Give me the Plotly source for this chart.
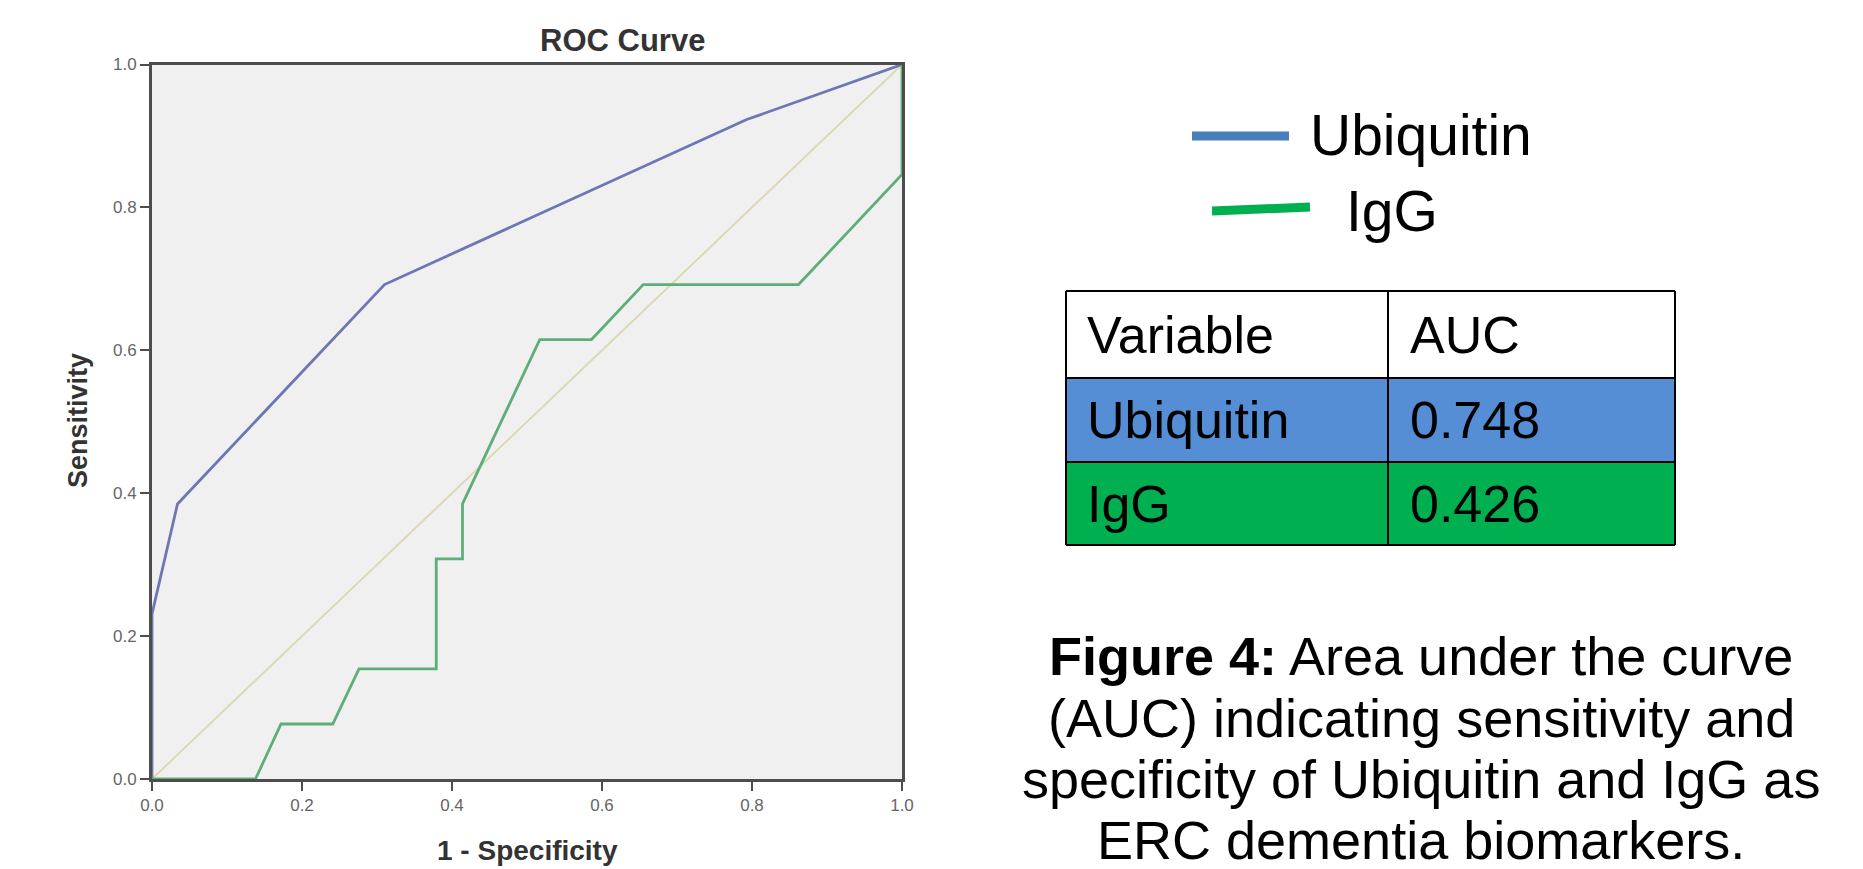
import plotly.graph_objects as go

# ---- data ----
ubq_fpr = [0.0, 0.0, 0.034, 0.310, 0.793, 1.0]
ubq_tpr = [0.0, 0.231, 0.385, 0.692, 0.923, 1.0]

igg_fpr = [0.0, 0.138, 0.172, 0.241, 0.276, 0.379, 0.379, 0.414, 0.414,
           0.517, 0.586, 0.655, 0.862, 1.0, 1.0]
igg_tpr = [0.0, 0.0, 0.077, 0.077, 0.154, 0.154, 0.308, 0.308, 0.385,
           0.615, 0.615, 0.692, 0.692, 0.846, 1.0]

ref_x = [0.0, 1.0]
ref_y = [0.0, 1.0]

tick_vals = [0.0, 0.2, 0.4, 0.6, 0.8, 1.0]
tick_text = ["0.0", "0.2", "0.4", "0.6", "0.8", "1.0"]

table_header = ["Variable", "AUC"]
table_vars = ["Ubiquitin", "IgG"]
table_auc = [0.748, 0.426]

caption_lines = ["<b>Figure 4:</b> Area under the curve",
                 "(AUC) indicating sensitivity and",
                 "specificity of Ubiquitin and IgG as",
                 "ERC dementia biomarkers."]

# ---- geometry: page has an 8px body margin, so the figure is offset ----
OFF = 8
W, H = 1863 - OFF, 869 - OFF
def px(x):
    return (x - OFF) / W
def py(y):
    return 1 - (y - OFF) / H

FONT = "Liberation Sans, Arial, sans-serif"

fig = go.Figure()
fig.add_trace(go.Scatter(x=ref_x, y=ref_y, mode="lines",
                         line=dict(color="#dcd9b4", width=2), showlegend=False))
fig.add_trace(go.Scatter(x=ubq_fpr, y=ubq_tpr, mode="lines",
                         line=dict(color="#6e76b4", width=2.8), showlegend=False))
fig.add_trace(go.Scatter(x=igg_fpr, y=igg_tpr, mode="lines",
                         line=dict(color="#5fae78", width=2.8), showlegend=False))

axis_common = dict(range=[0, 1], tickvals=tick_vals, ticktext=tick_text,
                   showgrid=False, zeroline=False, showline=True, mirror=True,
                   linecolor="#4d4d4d", linewidth=3, ticks="outside", ticklen=9,
                   tickwidth=2, tickcolor="#4d4d4d", automargin=False,
                   tickfont=dict(family=FONT, size=17, color="#666666"))

fig.update_layout(
    width=W, height=H,
    paper_bgcolor="white", plot_bgcolor="#f0f0f0",
    margin=dict(l=0, r=0, t=0, b=0, autoexpand=False),
    xaxis=dict(domain=[px(152), px(902)], **axis_common),
    yaxis=dict(domain=[py(779), py(64.5)], **axis_common),
    showlegend=False,
)

anns = []
# chart title and axis titles
anns.append(dict(text="<b>ROC Curve</b>", x=px(622), y=py(40), xref="paper", yref="paper",
                 xanchor="center", yanchor="middle", showarrow=False,
                 font=dict(family=FONT, size=31, color="#333333")))
anns.append(dict(text="<b>1 - Specificity</b>", x=px(527), y=py(850), xref="paper", yref="paper",
                 xanchor="center", yanchor="middle", showarrow=False,
                 font=dict(family=FONT, size=28, color="#333333")))
anns.append(dict(text="<b>Sensitivity</b>", x=px(78), y=py(421), xref="paper", yref="paper",
                 xanchor="center", yanchor="middle", showarrow=False, textangle=-90,
                 font=dict(family=FONT, size=27, color="#333333")))

shapes = []
# legend
shapes.append(dict(type="line", xref="paper", yref="paper",
                   x0=px(1192), x1=px(1289), y0=py(136), y1=py(136),
                   line=dict(color="#4a7ebb", width=9)))
shapes.append(dict(type="line", xref="paper", yref="paper",
                   x0=px(1212), x1=px(1310), y0=py(211), y1=py(207),
                   line=dict(color="#00b050", width=9)))
anns.append(dict(text="Ubiquitin", x=px(1308), y=py(135), xref="paper", yref="paper",
                 xanchor="left", yanchor="middle", showarrow=False,
                 font=dict(family=FONT, size=57, color="black")))
anns.append(dict(text="IgG", x=px(1344), y=py(211), xref="paper", yref="paper",
                 xanchor="left", yanchor="middle", showarrow=False,
                 font=dict(family=FONT, size=57, color="black")))

# table
tx0, tx1, tmid = 1066, 1675, 1388
row_edges = [291, 378, 462, 545]
row_fills = ["white", "#558ed5", "#00b050"]
for i, fill in enumerate(row_fills):
    shapes.append(dict(type="rect", xref="paper", yref="paper",
                       x0=px(tx0), x1=px(tx1), y0=py(row_edges[i + 1]), y1=py(row_edges[i]),
                       fillcolor=fill, line=dict(width=0), layer="below"))
for ye in row_edges:
    shapes.append(dict(type="line", xref="paper", yref="paper",
                       x0=px(tx0), x1=px(tx1), y0=py(ye), y1=py(ye),
                       line=dict(color="black", width=2)))
for xe in [tx0, tmid, tx1]:
    shapes.append(dict(type="line", xref="paper", yref="paper",
                       x0=px(xe), x1=px(xe), y0=py(row_edges[-1]), y1=py(row_edges[0]),
                       line=dict(color="black", width=2)))

rows = [table_header] + [[v, f"{a:.3f}"] for v, a in zip(table_vars, table_auc)]
for i, row in enumerate(rows):
    yc = (row_edges[i] + row_edges[i + 1]) / 2
    for j, cell in enumerate(row):
        xl = 1085 if j == 0 else 1408
        anns.append(dict(text=cell, x=px(xl), y=py(yc), xref="paper", yref="paper",
                         xanchor="left", yanchor="middle", showarrow=False,
                         font=dict(family=FONT, size=52, color="black")))

# caption
cap_y = [656, 718, 779, 840]
for line, yc in zip(caption_lines, cap_y):
    anns.append(dict(text=line, x=px(1421), y=py(yc), xref="paper", yref="paper",
                     xanchor="center", yanchor="middle", showarrow=False,
                     font=dict(family=FONT, size=54, color="black")))

fig.update_layout(annotations=anns, shapes=shapes)
fig.write_html("out.html")
